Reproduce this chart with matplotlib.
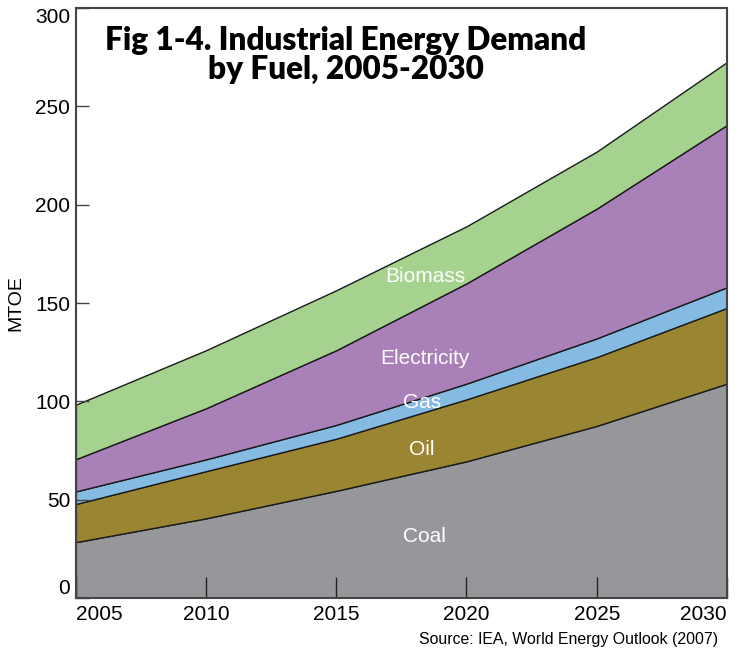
import matplotlib.pyplot as plt
import numpy as np

plt.rcParams['font.family'] = ['Liberation Sans', 'DejaVu Sans']

# data (MTOE)
years = [2005, 2010, 2015, 2020, 2025, 2030]
coal = [28.4, 40.5, 54.5, 69.5, 87.5, 109.0]
oil = [19.4, 24.0, 26.5, 31.5, 35.0, 38.5]
gas = [6.4, 6.0, 7.0, 8.0, 9.5, 10.5]
electricity = [16.4, 26.0, 38.0, 51.0, 66.0, 82.5]
biomass = [27.7, 29.5, 30.5, 29.0, 29.0, 32.0]

fuel_names = ['Coal', 'Oil', 'Gas', 'Electricity', 'Biomass']
fuel_colors = ['#96979a', '#9a8532', '#85bbe3', '#a980b7', '#a5d28e']
# label positions (year, MTOE)
label_pos = [(2018.4, 31.5), (2018.3, 75.5), (2018.3, 99.5), (2018.4, 122), (2018.4, 163.5)]

y_ticks = [0, 50, 100, 150, 200, 250, 300]

fig = plt.figure(figsize=(7.44, 6.49), dpi=100)
ax = fig.add_axes([0.102, 0.0786, 0.875, 0.909])

ax.stackplot(years, coal, oil, gas, electricity, biomass,
             colors=fuel_colors, edgecolor='#1a1a1a', linewidth=1.0)

for name, (x, y) in zip(fuel_names, label_pos):
    ax.text(x, y, name, color='white', fontsize=15, ha='center', va='center')

ax.set_xlim(2005, 2030)
ax.set_ylim(0, 300)
ax.set_xticks(years)
ax.set_xticklabels([str(y) for y in years])
ax.set_yticks(y_ticks)
ax.set_yticklabels([str(v) for v in y_ticks])

ax.tick_params(axis='x', direction='in', length=15, width=1.0, color='#222222',
               labelsize=15, pad=5)
ax.tick_params(axis='y', direction='in', length=9, width=1.0, color='#444444',
               labelsize=15, pad=4)

xl = ax.get_xticklabels()
xl[0].set_horizontalalignment('left')
xl[-1].set_horizontalalignment('right')
yl = ax.get_yticklabels()
yl[0].set_verticalalignment('bottom')
yl[-1].set_verticalalignment('top')

for s in ax.spines.values():
    s.set_color('#444444')
    s.set_linewidth(1.5)

ax.set_ylabel('MTOE', fontsize=14, labelpad=8)

ax.text(0.415, 0.970, 'Fig 1-4. Industrial Energy Demand\nby Fuel, 2005-2030',
        transform=ax.transAxes, ha='center', va='top', fontsize=22.7,
        fontweight='heavy', linespacing=1.0,
        family=['Lato', 'DejaVu Sans'])

fig.text(0.965, 0.003, 'Source: IEA, World Energy Outlook (2007)',
         ha='right', va='bottom', fontsize=11.4)

fig.savefig('out.png', dpi=100)
